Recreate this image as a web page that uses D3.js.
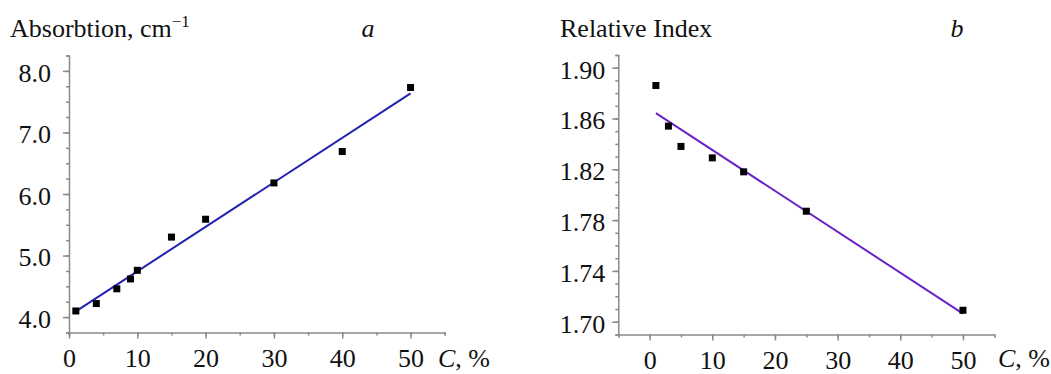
<!DOCTYPE html>
<html>
<head>
<meta charset="utf-8">
<script src="https://cdn.jsdelivr.net/npm/d3@7"></script>
<style>
  body { margin: 0; background: #fff; }
</style>
</head>
<body>
<script>
const WIDTH = 1051;
const HEIGHT = 374;
const FONT_SIZE = 26;
const SERIF = "'Liberation Serif', 'Times New Roman', Times, serif";

// panel a: absorption vs concentration
const concA = [1, 4, 7, 9, 10, 15, 20, 30, 40, 50];
const absorbA = [4.10, 4.22, 4.46, 4.62, 4.76, 5.30, 5.59, 6.18, 6.69, 7.73];
const yTicksA = [4.0, 5.0, 6.0, 7.0, 8.0];
const xTicksA = [0, 10, 20, 30, 40, 50];

// panel b: relative index vs concentration
const concB = [1, 3, 5, 10, 15, 25, 50];
const indexB = [1.886, 1.854, 1.838, 1.829, 1.818, 1.787, 1.709];
const yTicksB = [1.70, 1.74, 1.78, 1.82, 1.86, 1.90];
const xTicksB = [0, 10, 20, 30, 40, 50];

const svg = d3.select("body").append("svg")
    .attr("width", WIDTH)
    .attr("height", HEIGHT)
    .style("font-family", SERIF);

// least squares fit, returns points at both ends of xs
function fitLine(xs, ys) {
  const mx = d3.mean(xs), my = d3.mean(ys);
  let sxy = 0, sxx = 0;
  xs.forEach((x, i) => { sxy += (x - mx) * (ys[i] - my); sxx += (x - mx) * (x - mx); });
  const k = sxy / sxx;
  const x0 = d3.min(xs), x1 = d3.max(xs);
  return [[x0, my + k * (x0 - mx)], [x1, my + k * (x1 - mx)]];
}

function styleText(sel) {
  sel.style("font-family", SERIF)
     .style("font-size", FONT_SIZE + "px")
     .attr("fill", "#111");
}

function drawPanel(opt) {
  const { xs, ys, xScale, yScale, yTicks, xTicks, yMinor, xMinor, yFormat, lineColor, yLabelGap } = opt;
  const x0 = xScale.range()[0];
  const y0 = yScale.range()[0];

  // minor ticks
  svg.append("g")
      .attr("transform", "translate(" + x0 + ",0)")
      .call(d3.axisLeft(yScale).tickValues(yMinor).tickSize(3).tickFormat(""))
      .call(g => g.selectAll("line,path").attr("stroke", "#8a8a8a").attr("stroke-width", 1.5));
  svg.append("g")
      .attr("transform", "translate(0," + y0 + ")")
      .call(d3.axisBottom(xScale).tickValues(xMinor).tickSize(3).tickFormat(""))
      .call(g => g.selectAll("line,path").attr("stroke", "#8a8a8a").attr("stroke-width", 1.5));

  // major ticks with labels
  const yAxis = svg.append("g")
      .attr("transform", "translate(" + x0 + ",0)")
      .call(d3.axisLeft(yScale).tickValues(yTicks).tickSize(6).tickFormat(d3.format(yFormat)));
  yAxis.attr("font-family", null).attr("font-size", null);
  yAxis.selectAll("line,path").attr("stroke", "#8a8a8a").attr("stroke-width", 1.5);
  yAxis.select(".domain").remove();
  yAxis.selectAll("text")
      .attr("x", -yLabelGap)
      .attr("dy", "0.4em")
      .call(styleText);

  const xAxis = svg.append("g")
      .attr("transform", "translate(0," + y0 + ")")
      .call(d3.axisBottom(xScale).tickValues(xTicks).tickSize(6));
  xAxis.attr("font-family", null).attr("font-size", null);
  xAxis.selectAll("line,path").attr("stroke", "#8a8a8a").attr("stroke-width", 1.5);
  xAxis.select(".domain").remove();
  xAxis.selectAll("text")
      .attr("y", 16)
      .attr("dy", "0.71em")
      .call(styleText);

  // fitted line
  const fit = fitLine(xs, ys);
  svg.append("path")
      .datum(fit)
      .attr("fill", "none")
      .attr("stroke", lineColor)
      .attr("stroke-width", 2)
      .attr("d", d3.line().x(d => xScale(d[0])).y(d => yScale(d[1])));

  // measured points
  svg.append("g").selectAll("rect")
      .data(xs.map((x, i) => [x, ys[i]]))
      .enter()
      .append("rect")
        .attr("x", d => xScale(d[0]) - 3.5)
        .attr("y", d => yScale(d[1]) - 3.5)
        .attr("width", 7)
        .attr("height", 7)
        .attr("fill", "#000");
}

// Panel a
const xScaleA = d3.scaleLinear().domain([0, 55]).range([69, 444.7]);
const yScaleA = d3.scaleLinear().domain([3.75, 8.25]).range([332.5, 55.5]);
drawPanel({
  xs: concA, ys: absorbA, xScale: xScaleA, yScale: yScaleA,
  yTicks: yTicksA, xTicks: xTicksA,
  yMinor: d3.range(3.75, 8.26, 0.25), xMinor: d3.range(0, 56, 5),
  yFormat: ".1f", lineColor: "#2222b0", yLabelGap: 18
});

// Panel b
const xScaleB = d3.scaleLinear().domain([-5, 55]).range([618.3, 994.3]);
const yScaleB = d3.scaleLinear().domain([1.69, 1.91]).range([334.4, 55]);
drawPanel({
  xs: concB, ys: indexB, xScale: xScaleB, yScale: yScaleB,
  yTicks: yTicksB, xTicks: xTicksB,
  yMinor: d3.range(1.69, 1.9105, 0.01), xMinor: d3.range(-5, 56, 5),
  yFormat: ".2f", lineColor: "#6a22c8", yLabelGap: 13
});

// titles
const titleA = svg.append("text").attr("x", 10).attr("y", 37).call(styleText);
titleA.append("tspan").text("Absorbtion, cm");
titleA.append("tspan").attr("dy", -10).style("font-size", "17px").text("\u22121");

svg.append("text").attr("x", 368).attr("y", 37).attr("text-anchor", "middle")
    .call(styleText).style("font-style", "italic").text("a");

svg.append("text").attr("x", 560).attr("y", 37).call(styleText).text("Relative Index");

svg.append("text").attr("x", 957).attr("y", 37).attr("text-anchor", "middle")
    .call(styleText).style("font-style", "italic").text("b");

// x axis labels
function cLabel(x) {
  const t = svg.append("text").attr("x", x).attr("y", 367).call(styleText);
  t.append("tspan").style("font-style", "italic").text("C");
  t.append("tspan").text(", %");
}
cLabel(438);
cLabel(998);
</script>
</body>
</html>
